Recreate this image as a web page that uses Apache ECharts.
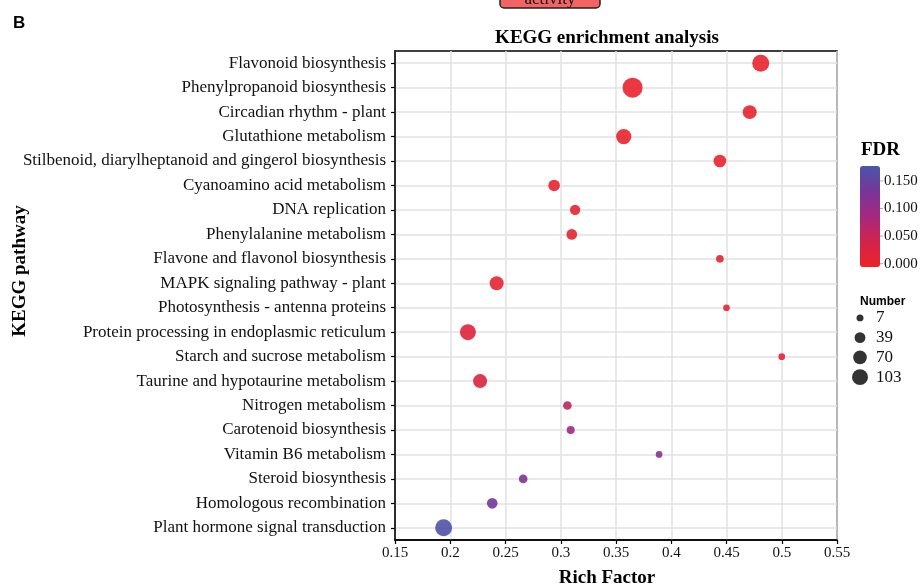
<!DOCTYPE html>
<html>
<head>
<meta charset="utf-8">
<script src="https://cdn.jsdelivr.net/npm/echarts@6/dist/echarts.min.js"></script>
<style>html,body{margin:0;padding:0;background:#fff;}#c{width:924px;height:584px;}</style>
</head>
<body>
<div id="c"></div>
<script>
const categories = [
  'Flavonoid biosynthesis',
  'Phenylpropanoid biosynthesis',
  'Circadian rhythm - plant',
  'Glutathione metabolism',
  'Stilbenoid, diarylheptanoid and gingerol biosynthesis',
  'Cyanoamino acid metabolism',
  'DNA replication',
  'Phenylalanine metabolism',
  'Flavone and flavonol biosynthesis',
  'MAPK signaling pathway - plant',
  'Photosynthesis - antenna proteins',
  'Protein processing in endoplasmic reticulum',
  'Starch and sucrose metabolism',
  'Taurine and hypotaurine metabolism',
  'Nitrogen metabolism',
  'Carotenoid biosynthesis',
  'Vitamin B6 metabolism',
  'Steroid biosynthesis',
  'Homologous recombination',
  'Plant hormone signal transduction'
];
const richFactor = [0.481, 0.365, 0.471, 0.357, 0.444, 0.294, 0.313, 0.310, 0.444, 0.242,
                    0.450, 0.216, 0.500, 0.227, 0.306, 0.309, 0.389, 0.266, 0.238, 0.194];
const geneNumber = [118, 170, 75, 93, 59, 47, 34, 37, 12, 75,
                    5, 103, 5, 75, 19, 14, 5, 19, 37, 118];
const fdr = [0.002, 0.001, 0.003, 0.004, 0.004, 0.006, 0.006, 0.007, 0.008, 0.009,
             0.010, 0.018, 0.012, 0.022, 0.058, 0.090, 0.113, 0.126, 0.137, 0.172];
const fdrTicks = [0, 0.05, 0.1, 0.15];
const numberBreaks = [7, 39, 70, 103];

const serif = 'Liberation Serif';
const sizeOf = n => Math.sqrt(33.9 + 2.156 * n);

const fdrMin = -0.006, fdrMax = 0.177;
const barLeft = 860, barTop = 166, barW = 20, barH = 101;

const chart = echarts.init(document.getElementById('c'), null, {renderer: 'canvas'});

const graphics = [
  {type: 'rect', shape: {x: 500, y: -14, width: 100, height: 22, r: 4},
   style: {fill: '#F26464', stroke: '#222', lineWidth: 1.5}},
  {type: 'text', x: 550, y: 0, style: {text: 'activity', font: '17px "Liberation Serif"', fill: '#111', align: 'center', verticalAlign: 'middle'}},
  {type: 'text', x: 20, y: 271, rotation: Math.PI / 2,
   style: {text: 'KEGG pathway', font: 'bold 19px "Liberation Serif"', fill: '#000', align: 'center', verticalAlign: 'middle'}}
];
fdrTicks.forEach(t => {
  const y = barTop + (fdrMax - t) / (fdrMax - fdrMin) * barH;
  graphics.push({type: 'line', shape: {x1: barLeft + barW, y1: y, x2: barLeft + barW + 3, y2: y}, style: {stroke: '#aaa', lineWidth: 1}});
  graphics.push({type: 'text', x: barLeft + barW + 4, y: y, style: {text: t.toFixed(3), font: '15px "Liberation Serif"', fill: '#111', align: 'left', verticalAlign: 'middle'}});
});

chart.setOption({
  backgroundColor: '#fff',
  animation: false,
  title: [
    {text: 'KEGG enrichment analysis', left: 602, top: 24, textAlign: 'center',
     textStyle: {fontFamily: serif, fontWeight: 'bold', fontSize: 19, color: '#000'}},
    {text: 'Rich Factor', left: 602, top: 564, textAlign: 'center',
     textStyle: {fontFamily: serif, fontWeight: 'bold', fontSize: 19, color: '#000'}},
    {text: 'B', left: 8, top: 10, textStyle: {fontFamily: 'Liberation Sans', fontWeight: 'bold', fontSize: 17, color: '#000'}},
    {text: 'FDR', left: 856, top: 136, textStyle: {fontFamily: serif, fontWeight: 'bold', fontSize: 19, color: '#000'}},
    {text: 'Number', left: 855, top: 291, textStyle: {fontFamily: 'Liberation Sans', fontWeight: 'bold', fontSize: 12, color: '#000'}}
  ],
  grid: [
    {left: 395, right: 87, top: 51, bottom: 44, show: true, borderColor: '#000', borderWidth: 1.5, containLabel: false},
    {left: 850, width: 20, top: 308, height: 79, show: false}
  ],
  xAxis: [
    {type: 'value', gridIndex: 0, min: 0.15, max: 0.55, interval: 0.05,
     axisLine: {show: true, onZero: false, lineStyle: {color: '#000', width: 1.5}},
     axisTick: {show: true, length: 4, lineStyle: {color: '#000', width: 1.2}},
     axisLabel: {fontFamily: serif, fontSize: 15, color: '#111', margin: 6},
     splitLine: {show: true, lineStyle: {color: '#E2E2E2', width: 1.5}}},
    {type: 'value', gridIndex: 1, min: -1, max: 1, show: false}
  ],
  yAxis: [
    {type: 'category', gridIndex: 0, data: categories, inverse: true,
     axisLine: {show: true, lineStyle: {color: '#000', width: 1.5}},
     axisTick: {show: true, length: 4, alignWithLabel: true, lineStyle: {color: '#000', width: 1.2}},
     axisLabel: {fontFamily: serif, fontSize: 17, color: '#111', margin: 9, interval: 0},
     splitLine: {show: true, alignWithLabel: true, lineStyle: {color: '#E2E2E2', width: 1.5}}},
    {type: 'category', gridIndex: 1, data: numberBreaks.map(String), inverse: true, position: 'right',
     axisLine: {show: false}, axisTick: {show: false}, splitLine: {show: false},
     axisLabel: {fontFamily: serif, fontSize: 17, color: '#111', margin: 6, interval: 0}}
  ],
  visualMap: [{
    type: 'continuous', seriesIndex: 0, dimension: 3, min: fdrMin, max: fdrMax,
    left: barLeft, top: barTop, itemWidth: barW, itemHeight: barH, padding: 0,
    calculable: false, text: ['', ''], showLabel: false, hoverLink: false,
    inRange: {color: ['#EE2228', '#D1244C', '#A5287E', '#783599', '#4A55A8']}
  }],
  series: [
    {type: 'scatter', xAxisIndex: 0, yAxisIndex: 0,
     data: categories.map((c, i) => [richFactor[i], c, geneNumber[i], fdr[i]]),
     symbolSize: v => sizeOf(v[2]),
     itemStyle: {opacity: 0.9}},
    {type: 'scatter', xAxisIndex: 1, yAxisIndex: 1,
     data: numberBreaks.map(n => [0, String(n), n]),
     symbolSize: v => sizeOf(v[2]),
     itemStyle: {color: '#000'}, silent: true}
  ],
  graphic: graphics
});
</script>
</body>
</html>
